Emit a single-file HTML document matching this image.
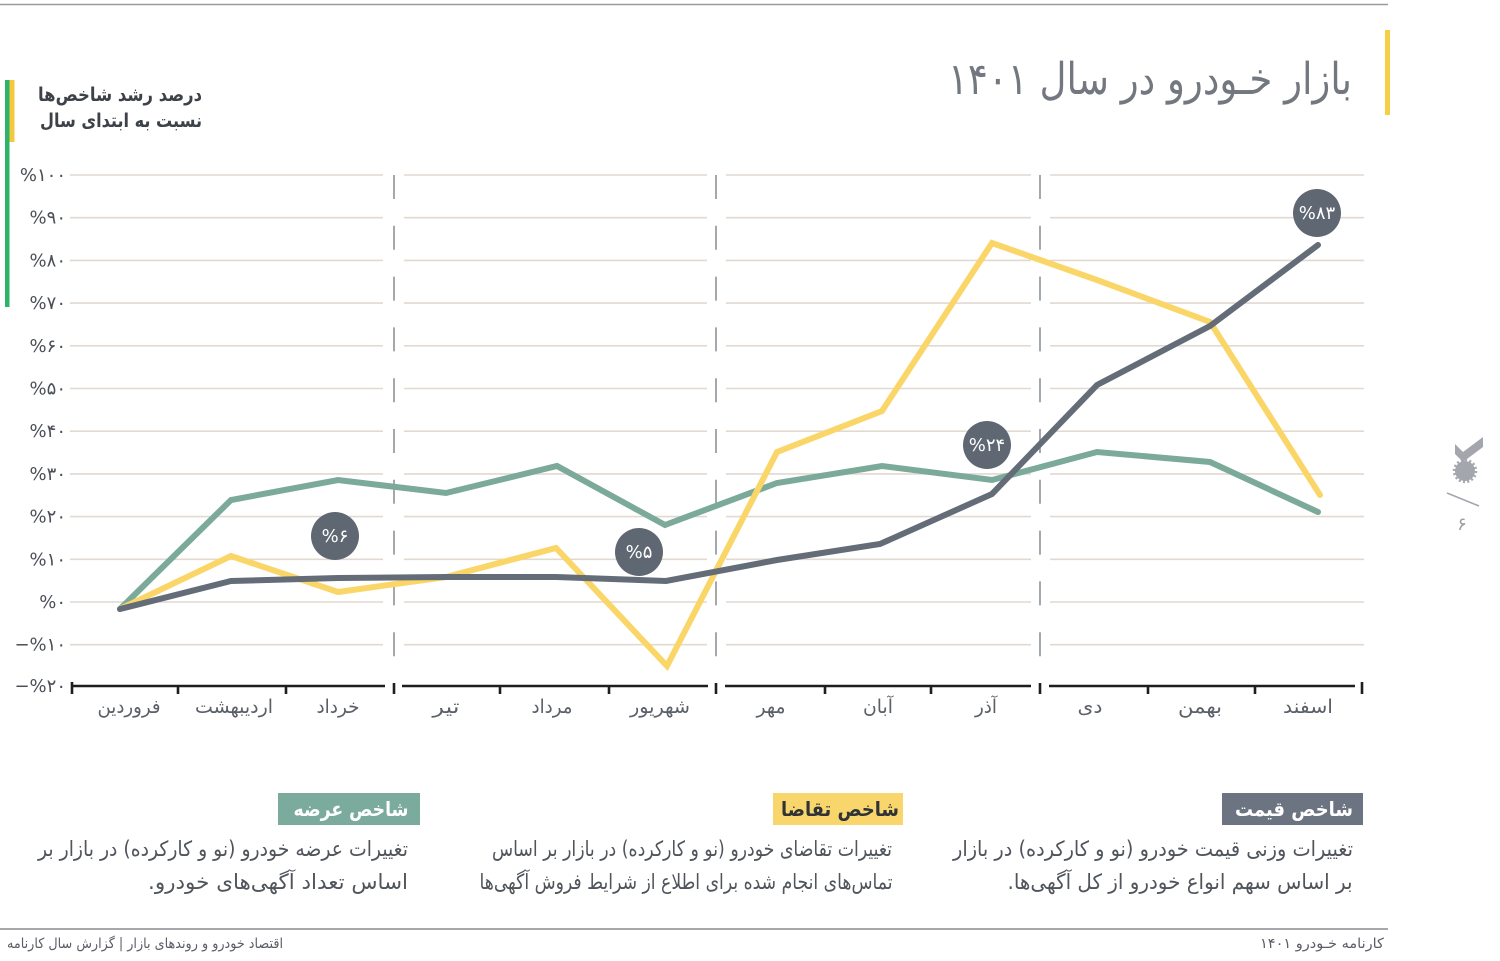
<!DOCTYPE html>
<html><head><meta charset="utf-8"><style>
html,body{margin:0;padding:0;background:#fff;}
svg{display:block;}
.fa{font-family:"DejaVu Sans",sans-serif;}
</style></head><body>
<svg width="1500" height="961" viewBox="0 0 1500 961" xmlns="http://www.w3.org/2000/svg">
<rect width="1500" height="961" fill="#fff"/>
<!-- top line -->
<line x1="0" y1="4.5" x2="1388" y2="4.5" stroke="#9a9ca0" stroke-width="1.5"/>
<!-- title bar -->
<rect x="1385" y="30" width="5" height="85" fill="#f6cf46"/>
<text class="fa" x="1150" y="94" font-size="44" font-weight="200" fill="#737880" text-anchor="middle" style="direction:rtl" textLength="404" lengthAdjust="spacingAndGlyphs">بازار خـودرو در سال ۱۴۰۱</text>
<!-- left bars -->
<rect x="5" y="80" width="4.5" height="227" fill="#2db36a"/>
<rect x="9.5" y="80" width="5" height="62" fill="#f5c842"/>
<text class="fa" x="120" y="101" font-size="19" font-weight="bold" fill="#3d4148" text-anchor="middle" style="direction:rtl" textLength="164" lengthAdjust="spacingAndGlyphs">درصد رشد شاخص‌ها</text>
<text class="fa" x="121" y="127" font-size="19" font-weight="bold" fill="#3d4148" text-anchor="middle" style="direction:rtl" textLength="162" lengthAdjust="spacingAndGlyphs">نسبت به ابتدای سال</text>

<!-- gridlines -->
<g stroke="#e2d9d0" stroke-width="1.6">
<path d="M70 175H383M404 175H707M726 175H1031M1050 175H1364
M70 217.7H383M404 217.7H707M726 217.7H1031M1050 217.7H1364
M70 260.4H383M404 260.4H707M726 260.4H1031M1050 260.4H1364
M70 303.1H383M404 303.1H707M726 303.1H1031M1050 303.1H1364
M70 345.8H383M404 345.8H707M726 345.8H1031M1050 345.8H1364
M70 388.5H383M404 388.5H707M726 388.5H1031M1050 388.5H1364
M70 431.2H383M404 431.2H707M726 431.2H1031M1050 431.2H1364
M70 473.9H383M404 473.9H707M726 473.9H1031M1050 473.9H1364
M70 516.6H383M404 516.6H707M726 516.6H1031M1050 516.6H1364
M70 559.3H383M404 559.3H707M726 559.3H1031M1050 559.3H1364
M70 602H383M404 602H707M726 602H1031M1050 602H1364
M70 644.7H383M404 644.7H707M726 644.7H1031M1050 644.7H1364" fill="none"/>
</g>
<!-- dashed separators -->
<g stroke="#8f9296" stroke-width="1.6" stroke-dasharray="24 26.8">
<line x1="394" y1="175" x2="394" y2="686"/>
<line x1="716" y1="175" x2="716" y2="686"/>
<line x1="1040" y1="175" x2="1040" y2="686"/>
</g>
<!-- axis -->
<g stroke="#1e1e1e" stroke-width="2.6">
<path d="M72 686H385M402 686H708M725 686H1031M1049 686H1355" fill="none"/>
<path d="M72 682V694M178 686V694M286 686V694M394 683V694M500 686V694M609 686V694M716 683V694M825 686V694M931 686V694M1040 683V694M1148 686V694M1255 686V694M1362 682V694" fill="none"/>
</g>
<!-- y labels -->
<g class="fa" font-size="18" fill="#4a4f56" text-anchor="end">
<text x="66" y="181">%۱۰۰</text>
<text x="66" y="223.7">%۹۰</text>
<text x="66" y="266.4">%۸۰</text>
<text x="66" y="309.1">%۷۰</text>
<text x="66" y="351.8">%۶۰</text>
<text x="66" y="394.5">%۵۰</text>
<text x="66" y="437.2">%۴۰</text>
<text x="66" y="479.9">%۳۰</text>
<text x="66" y="522.6">%۲۰</text>
<text x="66" y="565.3">%۱۰</text>
<text x="66" y="608">%۰</text>
<text x="66" y="650.7">−%۱۰</text>
<text x="66" y="692">−%۲۰</text>
</g>
<!-- month labels -->
<g class="fa" font-size="19" fill="#5b6068" text-anchor="middle" style="direction:rtl">
<text x="129" y="713" textLength="63" lengthAdjust="spacingAndGlyphs">فروردین</text>
<text x="234" y="713" textLength="78" lengthAdjust="spacingAndGlyphs">اردیبهشت</text>
<text x="338" y="713" textLength="43" lengthAdjust="spacingAndGlyphs">خرداد</text>
<text x="446" y="713" textLength="27" lengthAdjust="spacingAndGlyphs">تیر</text>
<text x="552" y="713" textLength="41" lengthAdjust="spacingAndGlyphs">مرداد</text>
<text x="660" y="713" textLength="60" lengthAdjust="spacingAndGlyphs">شهریور</text>
<text x="771" y="713" textLength="29" lengthAdjust="spacingAndGlyphs">مهر</text>
<text x="878" y="713" textLength="30" lengthAdjust="spacingAndGlyphs">آبان</text>
<text x="986" y="713" textLength="22" lengthAdjust="spacingAndGlyphs">آذر</text>
<text x="1090" y="713" textLength="25" lengthAdjust="spacingAndGlyphs">دی</text>
<text x="1200" y="713" textLength="44" lengthAdjust="spacingAndGlyphs">بهمن</text>
<text x="1308" y="713" textLength="50" lengthAdjust="spacingAndGlyphs">اسفند</text>
</g>
<!-- series -->
<g fill="none" stroke-width="6" stroke-linecap="round" stroke-linejoin="miter">
<polyline stroke="#7caa9a" points="120,609 231,500 338,480 446,493 557,466 665,525 777,483 882,466 992,480 1097,452 1210,462 1318,512"/>
<polyline stroke="#fad669" points="120,609 231,556 338,592 446,577 556,548 667,666 777,452 882,411 992,243 1097,280 1210,322 1320,495"/>
<polyline stroke="#646c78" points="120,609 231,581 338,578 446,577 556,577 666,581 777,560 880,544 992,494 1097,385 1210,326 1318,245"/>
</g>
<!-- badges -->
<g class="fa" font-size="18" fill="#fff" text-anchor="middle">
<circle cx="335" cy="536" r="24" fill="#5f6773"/>
<text x="335" y="542">%۶</text>
<circle cx="639" cy="552" r="24" fill="#5f6773"/>
<text x="639" y="558">%۵</text>
<circle cx="987" cy="445" r="24" fill="#5f6773"/>
<text x="987" y="451">%۲۴</text>
<circle cx="1317" cy="213" r="24" fill="#5f6773"/>
<text x="1317" y="219">%۸۳</text>
</g>
<!-- right icon -->
<polygon points="1455,444 1463,452 1483,437 1483,447 1463,462 1455,454" fill="#a3a7ad"/>
<circle cx="1465" cy="471" r="10" fill="#a3a7ad"/>
<circle cx="1465" cy="471" r="11" fill="none" stroke="#a3a7ad" stroke-width="2.5" stroke-dasharray="2 2.3"/>
<line x1="1447" y1="493" x2="1479" y2="506" stroke="#a3a7ad" stroke-width="1.5"/>
<text class="fa" x="1462" y="530" font-size="18" fill="#9a9ea4" text-anchor="middle">۶</text>

<!-- legend boxes -->
<rect x="1222" y="793" width="141" height="32" fill="#6b7480"/>
<text class="fa" x="1294" y="816" font-size="20" font-weight="bold" fill="#fff" text-anchor="middle" style="direction:rtl" textLength="118" lengthAdjust="spacingAndGlyphs">شاخص قیمت</text>
<rect x="773" y="793" width="130" height="32" fill="#f9d66b"/>
<text class="fa" x="840" y="816" font-size="20" font-weight="bold" fill="#2f3237" text-anchor="middle" style="direction:rtl" textLength="118" lengthAdjust="spacingAndGlyphs">شاخص تقاضا</text>
<rect x="278" y="793" width="142" height="32" fill="#7aab9c"/>
<text class="fa" x="351" y="816" font-size="20" font-weight="bold" fill="#fff" text-anchor="middle" style="direction:rtl" textLength="115" lengthAdjust="spacingAndGlyphs">شاخص عرضه</text>

<!-- descriptions -->
<g class="fa" font-size="21" fill="#50555c" text-anchor="middle" style="direction:rtl">
<text x="1153" y="856" textLength="400" lengthAdjust="spacingAndGlyphs">تغییرات وزنی قیمت خودرو (نو و کارکرده) در بازار</text>
<text x="1180" y="889" textLength="345" lengthAdjust="spacingAndGlyphs">بر اساس سهم انواع خودرو از کل آگهی‌ها.</text>
<text x="692" y="856" textLength="400" lengthAdjust="spacingAndGlyphs">تغییرات تقاضای خودرو (نو و کارکرده) در بازار بر اساس</text>
<text x="686" y="889" textLength="413" lengthAdjust="spacingAndGlyphs">تماس‌های انجام شده برای اطلاع از شرایط فروش آگهی‌ها</text>
<text x="223" y="856" textLength="370" lengthAdjust="spacingAndGlyphs">تغییرات عرضه خودرو (نو و کارکرده) در بازار بر</text>
<text x="278" y="889" textLength="260" lengthAdjust="spacingAndGlyphs">اساس تعداد آگهی‌های خودرو.</text>
</g>

<!-- footer -->
<line x1="0" y1="929" x2="1388" y2="929" stroke="#a6a8ab" stroke-width="2"/>
<text class="fa" x="145" y="948" font-size="14" fill="#5a5e64" text-anchor="middle" style="direction:rtl" textLength="276" lengthAdjust="spacingAndGlyphs">اقتصاد خودرو و روندهای بازار  |  گزارش سال کارنامه</text>
<text class="fa" x="1322" y="948" font-size="14" fill="#5a5e64" text-anchor="middle" style="direction:rtl" textLength="124" lengthAdjust="spacingAndGlyphs">کارنامه خـودرو ۱۴۰۱</text>
</svg>
</body></html>
